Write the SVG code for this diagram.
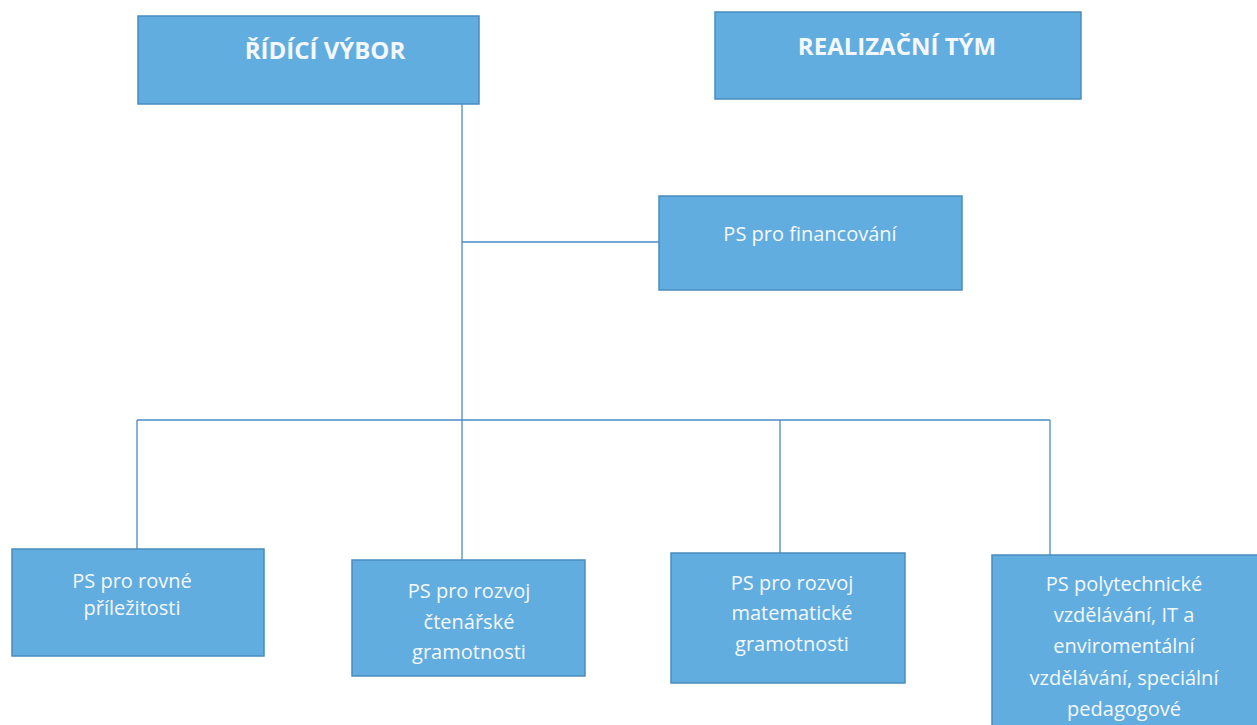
<svg xmlns="http://www.w3.org/2000/svg" width="1257" height="725" viewBox="0 0 1257 725">
<style>
.box{fill:#62ade0;stroke:#4a8cbf;stroke-width:1.5}
.t{font-family:"Open Sans","Liberation Sans",sans-serif;fill:#f4f8fb;text-anchor:middle;font-size:20px}
.h{font-family:"Open Sans","Liberation Sans",sans-serif;fill:#f4f8fb;text-anchor:middle;font-size:24px;font-weight:bold}
.c{stroke:#4b8ac4;stroke-width:1.3;fill:none}
</style>
<rect width="1257" height="725" fill="#ffffff"/>
<g id="connectors">
<path class="c" d="M462 104V420"/>
<path class="c" d="M462 242H659"/>
<path class="c" d="M137 420H1050"/>
<path class="c" d="M137 420V549"/>
<path class="c" d="M462 420V560"/>
<path class="c" d="M780 420V553"/>
<path class="c" d="M1050 420V555"/>
</g>
<g id="ridici-vybor">
<rect class="box" x="138" y="16" width="341" height="88"/>
<text class="h" x="325" y="59">ŘÍDÍCÍ VÝBOR</text>
</g>
<g id="realizacni-tym">
<rect class="box" x="715" y="12" width="366" height="87"/>
<text class="h" x="897" y="55">REALIZAČNÍ TÝM</text>
</g>
<g id="ps-financovani">
<rect class="box" x="659" y="196" width="303" height="94"/>
<text class="t" x="810" y="241">PS pro financování</text>
</g>
<g id="ps-rovne">
<rect class="box" x="12" y="549" width="252" height="107"/>
<text class="t" x="132" y="588">PS pro rovné</text>
<text class="t" x="132" y="615">příležitosti</text>
</g>
<g id="ps-ctenarske">
<rect class="box" x="352" y="560" width="233" height="116"/>
<text class="t" x="469" y="598">PS pro rozvoj</text>
<text class="t" x="469" y="629">čtenářské</text>
<text class="t" x="469" y="659">gramotnosti</text>
</g>
<g id="ps-matematicke">
<rect class="box" x="671" y="553" width="234" height="130"/>
<text class="t" x="792" y="590">PS pro rozvoj</text>
<text class="t" x="792" y="620">matematické</text>
<text class="t" x="792" y="651">gramotnosti</text>
</g>
<g id="ps-polytechnicke">
<rect class="box" x="992" y="555" width="270" height="180"/>
<text class="t" x="1124" y="591">PS polytechnické</text>
<text class="t" x="1124" y="622">vzdělávání, IT a</text>
<text class="t" x="1124" y="653">enviromentální</text>
<text class="t" x="1124" y="685">vzdělávání, speciální</text>
<text class="t" x="1124" y="716">pedagogové</text>
</g>
</svg>
